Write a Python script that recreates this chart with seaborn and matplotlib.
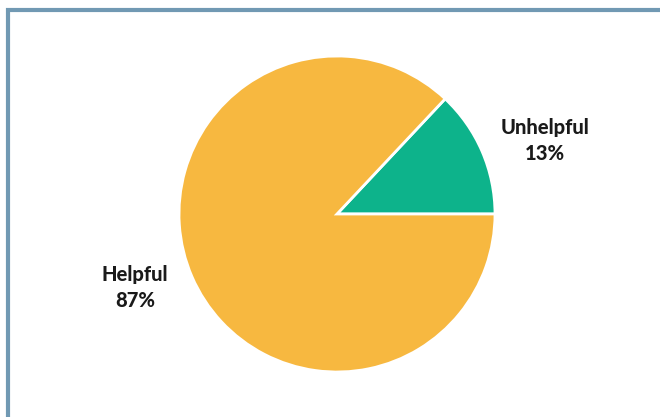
import matplotlib
matplotlib.use("Agg")
import matplotlib.pyplot as plt
import matplotlib.patches as mpatches
import seaborn as sns

categories = ["Unhelpful", "Helpful"]
shares = [13, 87]
colors = ["#0DB38B", "#F7B840"]

sns.set_theme(style="white")
plt.rcParams["font.family"] = ["Lato", "DejaVu Sans"]

fig = plt.figure(figsize=(6.6, 4.17), dpi=100)
fig.patch.set_facecolor("white")

# pie area: centre and radius in figure pixels
W, H = 660, 417
cx, cy, r = 337, 214, 158
ax = fig.add_axes([(cx - r) / W, (H - cy - r) / H, 2 * r / W, 2 * r / H])
ax.pie(shares, colors=colors, startangle=0, counterclock=True,
       wedgeprops=dict(edgecolor="white", linewidth=2))
ax.set_xlim(-1, 1)
ax.set_ylim(-1, 1)
ax.set_aspect("equal")
ax.axis("off")

label_pos = [(1.316, 0.465), (-1.278, -0.465)]
for name, val, (x, y) in zip(categories, shares, label_pos):
    ax.text(x, y, f"{name}\n{val}%", ha="center", va="center",
            fontsize=14.5, fontweight="black", color="#1a1a1a",
            linespacing=1.42, clip_on=False)

# frame around the chart (open to the right and bottom)
frame = mpatches.Rectangle((7.5 / W, -0.1), 1.2, 1 - 10 / H + 0.1,
                           transform=fig.transFigure, fill=False,
                           edgecolor="#7199B3", linewidth=3)
fig.patches.append(frame)

fig.savefig("out.png", dpi=100, facecolor="white")
